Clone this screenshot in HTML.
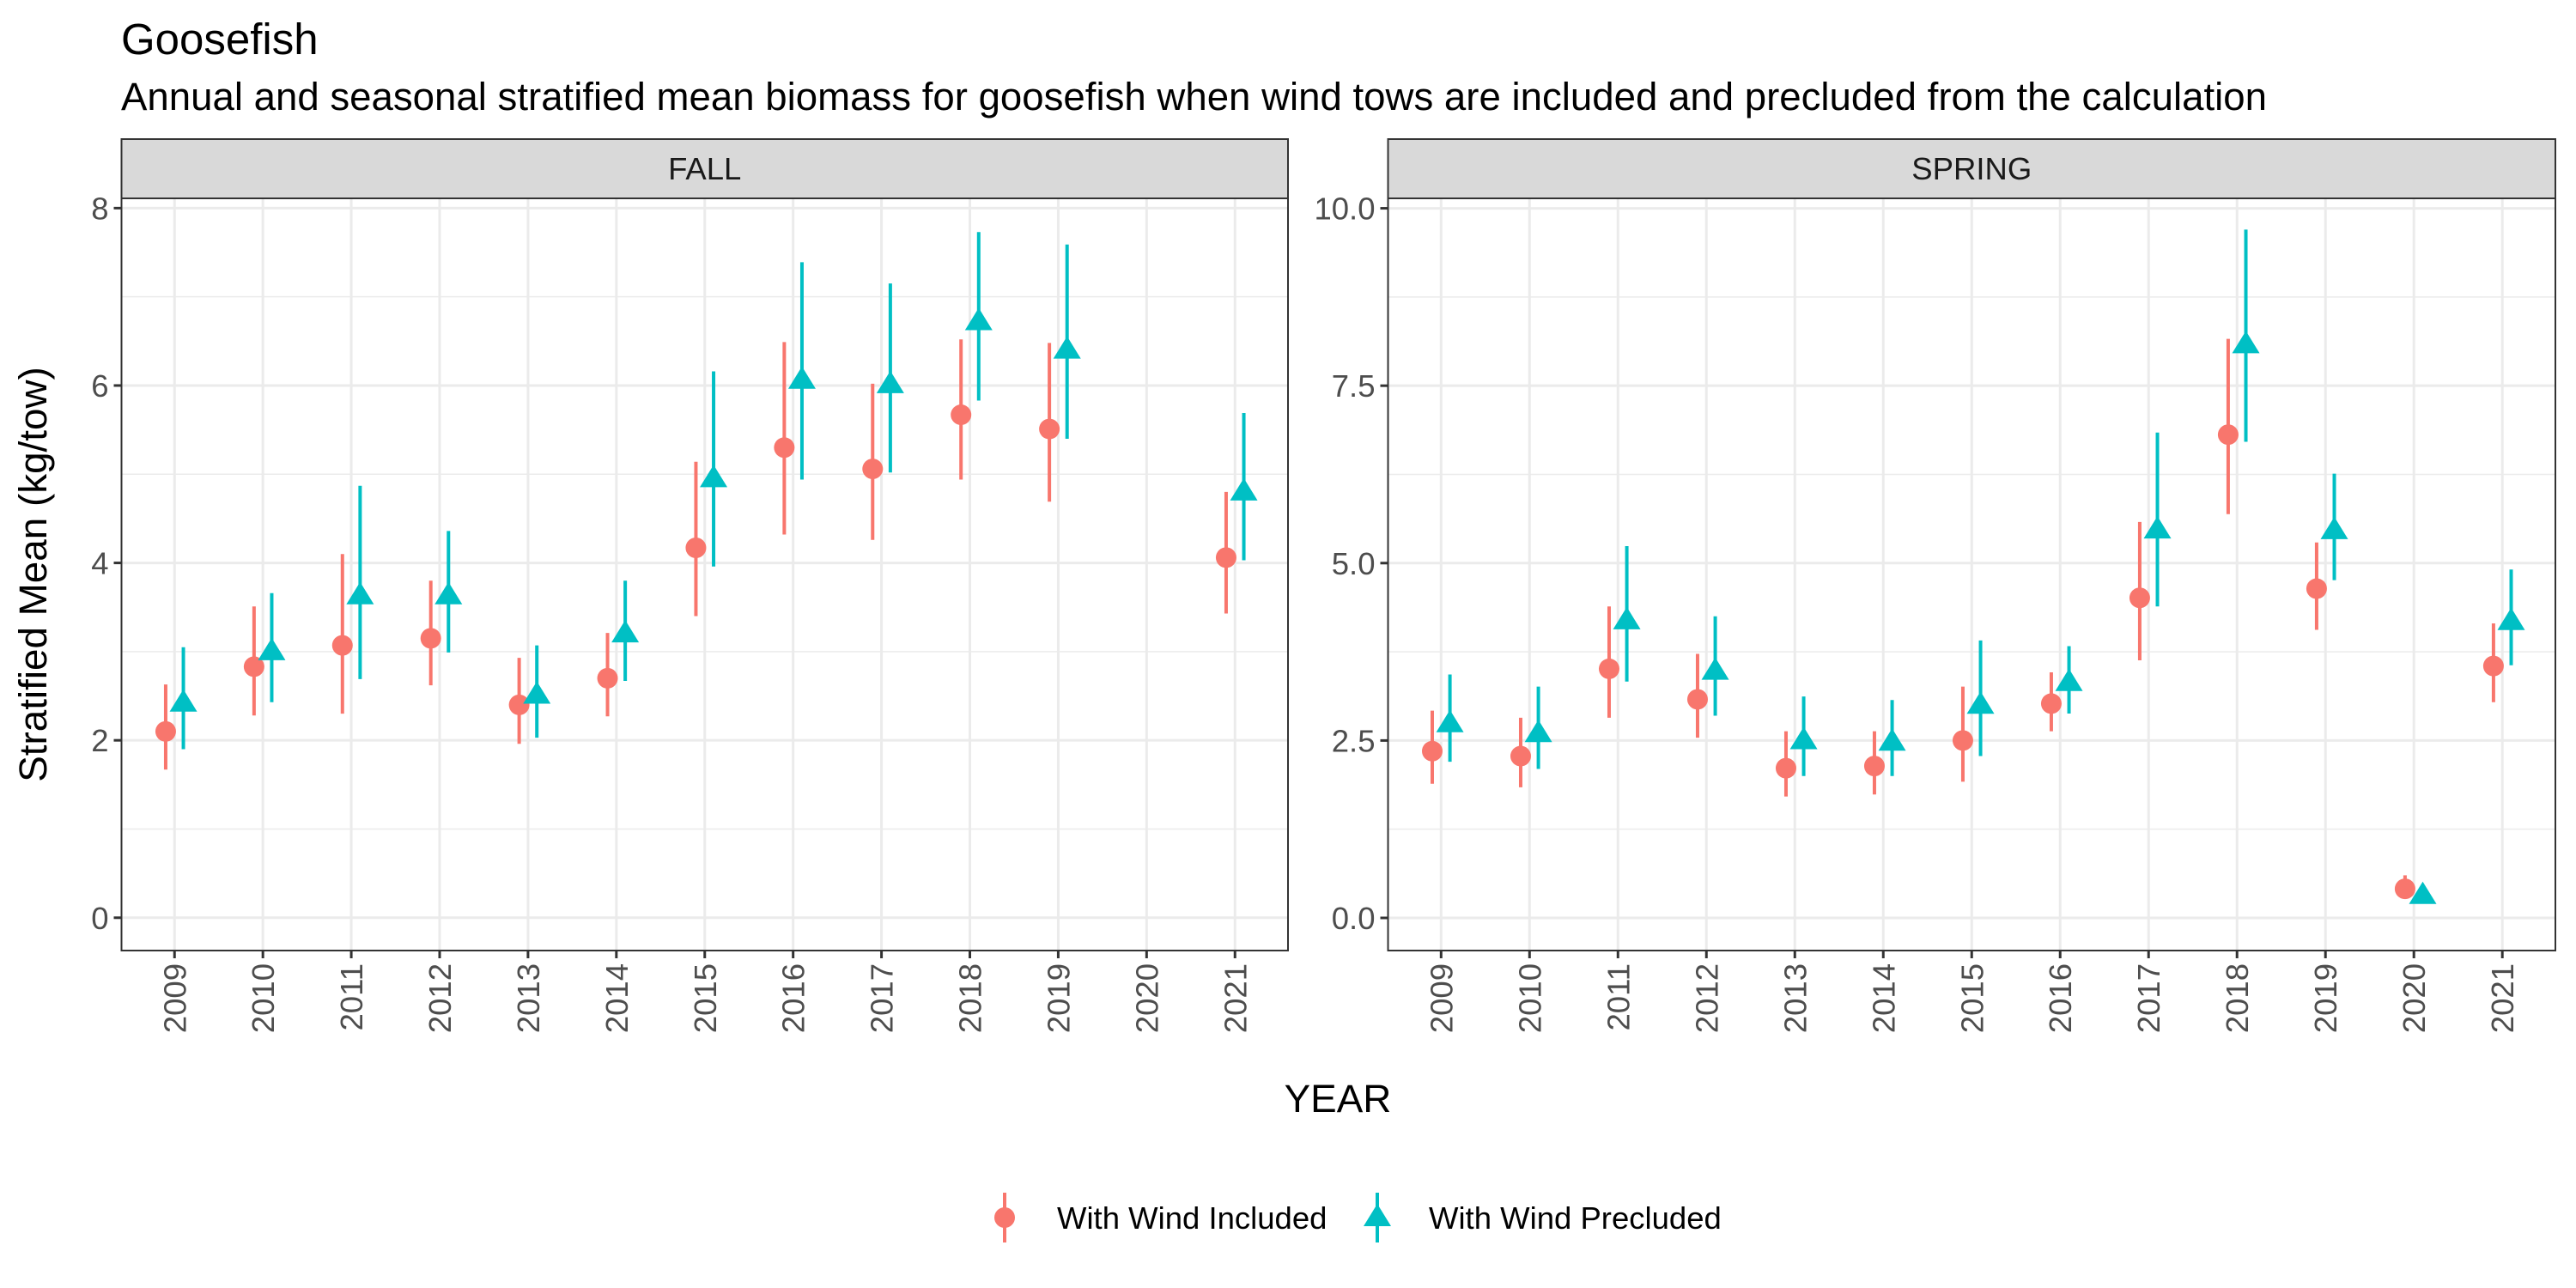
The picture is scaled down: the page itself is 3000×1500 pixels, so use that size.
<!DOCTYPE html>
<html><head><meta charset="utf-8"><style>
html,body{margin:0;padding:0;background:#fff;}
svg{display:block;font-family:"Liberation Sans",Arial,sans-serif;}
</style></head><body>
<svg id="chart" width="3000" height="1500" viewBox="0 0 3000 1500" xmlns="http://www.w3.org/2000/svg">
<rect width="3000" height="1500" fill="#fff"/>
<text x="141" y="63" font-size="51" fill="#000">Goosefish</text>
<text x="141" y="128" font-size="45.6" fill="#000">Annual and seasonal stratified mean biomass for goosefish when wind tows are included and precluded from the calculation</text>
<text transform="translate(54,669) rotate(-90)" text-anchor="middle" font-size="45.8" fill="#000">Stratified Mean (kg/tow)</text>
<text x="1558" y="1295" text-anchor="middle" font-size="45.8" fill="#000">YEAR</text>
<g id="panels"></g>
<g>
  <line x1="1170" y1="1389" x2="1170" y2="1447" stroke="#F8766D" stroke-width="4"/>
  <circle cx="1170" cy="1418" r="12" fill="#F8766D"/>
  <text x="1231" y="1431" font-size="36.5" fill="#000">With Wind Included</text>
  <line x1="1604" y1="1389" x2="1604" y2="1447" stroke="#00BFC4" stroke-width="4"/>
  <polygon points="1604,1402 1620,1428 1588,1428" fill="#00BFC4"/>
  <text x="1664" y="1431" font-size="36.5" fill="#000">With Wind Precluded</text>
</g>
</svg>
<script>
const years = [2009,2010,2011,2012,2013,2014,2015,2016,2017,2018,2019,2020,2021];
const fallIncMean = [2.10,2.83,3.07,3.15,2.40,2.70,4.17,5.30,5.06,5.67,5.51,null,4.06];
const fallIncLo   = [1.67,2.28,2.30,2.62,1.96,2.27,3.40,4.32,4.26,4.94,4.69,null,3.43];
const fallIncHi   = [2.63,3.51,4.10,3.80,2.93,3.21,5.14,6.49,6.02,6.52,6.48,null,4.80];
const fallPreMean = [2.43,3.01,3.64,3.64,2.52,3.21,4.96,6.07,6.02,6.73,6.41,null,4.81];
const fallPreLo   = [1.90,2.43,2.69,2.99,2.03,2.67,3.96,4.94,5.02,5.83,5.40,null,4.03];
const fallPreHi   = [3.05,3.66,4.87,4.36,3.07,3.80,6.16,7.39,7.15,7.73,7.59,null,5.69];
const springIncMean = [2.35,2.28,3.51,3.08,2.11,2.14,2.50,3.02,4.51,6.81,4.64,0.41,3.55];
const springIncLo   = [1.89,1.84,2.82,2.54,1.71,1.74,1.92,2.63,3.63,5.69,4.06,0.32,3.04];
const springIncHi   = [2.92,2.82,4.39,3.72,2.63,2.63,3.26,3.46,5.58,8.16,5.29,0.60,4.15];
const springPreMean = [2.75,2.61,4.20,3.49,2.51,2.49,3.01,3.33,5.48,8.09,5.47,0.33,4.19];
const springPreLo   = [2.20,2.10,3.33,2.85,2.00,2.00,2.28,2.88,4.39,6.71,4.76,0.31,3.56];
const springPreHi   = [3.43,3.26,5.24,4.25,3.12,3.07,3.91,3.83,6.84,9.70,6.26,0.35,4.91];
const fallTicks = [0,2,4,6,8];
const fallTickLabels = ["0","2","4","6","8"];
const springTicks = [0,2.5,5,7.5,10];
const springTickLabels = ["0.0","2.5","5.0","7.5","10.0"];

const NS = "http://www.w3.org/2000/svg";
const root = document.getElementById('panels');
function mk(tag, attrs, parent){
  const e = document.createElementNS(NS, tag);
  for (const k in attrs) e.setAttribute(k, attrs[k]);
  (parent||root).appendChild(e);
  return e;
}
const TOP = 231, BOT = 1107;

function panel(name, left, right, ymin, ymax, ticks, tickLabels, inc, pre){
  const g = mk('g', {});
  
  
  const n = years.length;
  const step = (right-left)/(n-1+1.2);
  const xs = i => left + step*0.6 + i*step;
  const ys = v => BOT - (v - ymin)/(ymax - ymin)*(BOT-TOP);
  const strip = mk('rect', {x:left, y:162, width:right-left, height:TOP-162, fill:'#d9d9d9', stroke:'#333', 'stroke-width':2}, g);
  
  
  const st = mk('text', {x:(left+right)/2, y:209, 'text-anchor':'middle', 'font-size':36.5, fill:'#1a1a1a'}, g);
  st.textContent = name.toUpperCase();
  
  
  mk('rect', {x:left, y:TOP, width:right-left, height:BOT-TOP, fill:'#fff'}, g);
  for (let i=0;i<ticks.length-1;i++){
    const m = (ticks[i]+ticks[i+1])/2;
    mk('line', {x1:left, x2:right, y1:ys(m), y2:ys(m), stroke:'#ebebeb', 'stroke-width':1.5}, g);
  }
  ticks.forEach(t => mk('line', {x1:left, x2:right, y1:ys(t), y2:ys(t), stroke:'#ebebeb', 'stroke-width':3}, g));
  years.forEach((y,i) => mk('line', {x1:xs(i), x2:xs(i), y1:TOP, y2:BOT, stroke:'#ebebeb', 'stroke-width':3}, g));
  ticks.forEach((t,i) => {
    mk('line', {x1:left-9, x2:left, y1:ys(t), y2:ys(t), stroke:'#333', 'stroke-width':3}, g);
    const tl = mk('text', {x:left-15, y:ys(t)+13, 'text-anchor':'end', 'font-size':36.5, fill:'#4d4d4d'}, g);
    tl.textContent = tickLabels[i];
    
    
  });
  years.forEach((y,i) => {
    mk('line', {x1:xs(i), x2:xs(i), y1:BOT, y2:BOT+9, stroke:'#333', 'stroke-width':3}, g);
    const tl = mk('text', {transform:'translate(' + (xs(i)+13) + ',' + (BOT+15) + ') rotate(-90)', 'text-anchor':'end', 'font-size':36.5, fill:'#4d4d4d'}, g);
    tl.textContent = String(y);
    
    
  });
  const d = 10.3;
  years.forEach((y,i) => {
    if (inc[0][i] !== null){
      const cx = xs(i) - d;
      const gi = mk('g', {}, g);
      
      
      mk('line', {x1:cx, x2:cx, y1:ys(inc[1][i]), y2:ys(inc[2][i]), stroke:'#F8766D', 'stroke-width':4}, gi);
      mk('circle', {cx:cx, cy:ys(inc[0][i]), r:12, fill:'#F8766D'}, gi);
    }
    if (pre[0][i] !== null){
      const cx = xs(i) + d;
      const gp = mk('g', {}, g);
      
      
      mk('line', {x1:cx, x2:cx, y1:ys(pre[1][i]), y2:ys(pre[2][i]), stroke:'#00BFC4', 'stroke-width':4}, gp);
      const cy = ys(pre[0][i]);
      mk('polygon', {points: cx + ',' + (cy-15) + ' ' + (cx+16) + ',' + (cy+11) + ' ' + (cx-16) + ',' + (cy+11), fill:'#00BFC4'}, gp);
    }
  });
  mk('rect', {x:left, y:TOP, width:right-left, height:BOT-TOP, fill:'none', stroke:'#333', 'stroke-width':2}, g);
}
panel('fall', 141.5, 1500, -0.37, 8.11, fallTicks, fallTickLabels,
  [fallIncMean, fallIncLo, fallIncHi], [fallPreMean, fallPreLo, fallPreHi]);
panel('spring', 1616.5, 2976, -0.46, 10.14, springTicks, springTickLabels,
  [springIncMean, springIncLo, springIncHi], [springPreMean, springPreLo, springPreHi]);
</script>
</body></html>
